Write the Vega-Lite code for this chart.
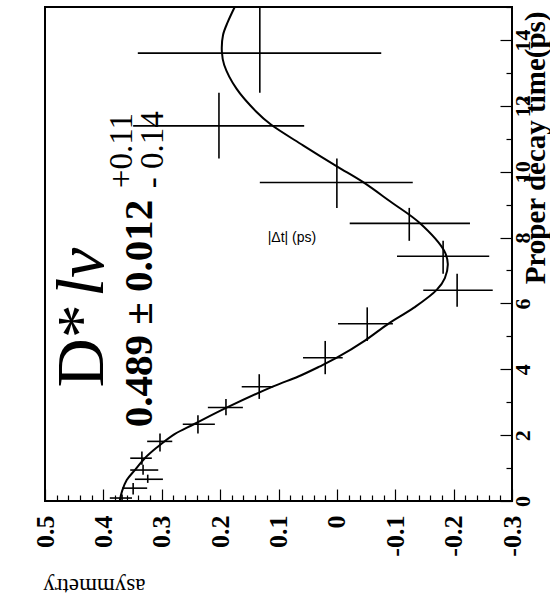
{
  "$schema": "https://vega.github.io/schema/vega-lite/v6.json",
  "width": 467,
  "height": 494,
  "autosize": {"type": "none"},
  "padding": {"left": 45, "top": 7, "right": 38, "bottom": 110},
  "background": "white",
  "config": {"view": {"stroke": "black", "strokeWidth": 2}, "font": "Liberation Serif"},
  "datasets": {
    "points": [
      {"t": 0.09, "tlo": 0.0, "thi": 0.2, "a": 0.368, "alo": 0.351, "ahi": 0.389},
      {"t": 0.39, "tlo": 0.2, "thi": 0.55, "a": 0.349, "alo": 0.325, "ahi": 0.368},
      {"t": 0.66, "tlo": 0.55, "thi": 0.8, "a": 0.324, "alo": 0.298, "ahi": 0.346},
      {"t": 0.94, "tlo": 0.8, "thi": 1.1, "a": 0.332, "alo": 0.306, "ahi": 0.354},
      {"t": 1.3, "tlo": 1.1, "thi": 1.5, "a": 0.334, "alo": 0.317, "ahi": 0.354},
      {"t": 1.81, "tlo": 1.5, "thi": 2.05, "a": 0.303, "alo": 0.282, "ahi": 0.325},
      {"t": 2.33, "tlo": 2.05, "thi": 2.6, "a": 0.238, "alo": 0.209, "ahi": 0.264},
      {"t": 2.84, "tlo": 2.6, "thi": 3.1, "a": 0.19, "alo": 0.161, "ahi": 0.221},
      {"t": 3.47, "tlo": 3.1, "thi": 3.85, "a": 0.133, "alo": 0.109, "ahi": 0.163},
      {"t": 4.35, "tlo": 3.85, "thi": 4.86, "a": 0.02, "alo": -0.01, "ahi": 0.058},
      {"t": 5.38, "tlo": 4.86, "thi": 5.88, "a": -0.052, "alo": -0.096, "ahi": -0.002},
      {"t": 6.4, "tlo": 5.9, "thi": 6.9, "a": -0.206, "alo": -0.267, "ahi": -0.148},
      {"t": 7.43, "tlo": 6.9, "thi": 7.9, "a": -0.182, "alo": -0.261, "ahi": -0.103},
      {"t": 8.43, "tlo": 7.9, "thi": 8.9, "a": -0.124, "alo": -0.228, "ahi": -0.022},
      {"t": 9.67, "tlo": 8.9, "thi": 10.4, "a": 0.0, "alo": -0.13, "ahi": 0.132},
      {"t": 11.39, "tlo": 10.4, "thi": 12.4, "a": 0.202, "alo": 0.056, "ahi": 0.349},
      {"t": 13.6, "tlo": 12.4, "thi": 15.0, "a": 0.132, "alo": -0.076, "ahi": 0.341}
    ],
    "fit": [
      {"t": 0.0, "a": 0.372},
      {"t": 0.3, "a": 0.368},
      {"t": 0.635, "a": 0.36},
      {"t": 0.94, "a": 0.346},
      {"t": 1.3, "a": 0.329},
      {"t": 1.63, "a": 0.308},
      {"t": 2.03, "a": 0.278},
      {"t": 2.33, "a": 0.245},
      {"t": 2.84, "a": 0.188},
      {"t": 3.48, "a": 0.109},
      {"t": 3.78, "a": 0.066},
      {"t": 4.08, "a": 0.03},
      {"t": 4.35, "a": 0.0},
      {"t": 4.87, "a": -0.048},
      {"t": 5.38, "a": -0.088},
      {"t": 5.87, "a": -0.132},
      {"t": 6.41, "a": -0.171},
      {"t": 6.77, "a": -0.185},
      {"t": 7.2, "a": -0.19},
      {"t": 7.59, "a": -0.184},
      {"t": 8.44, "a": -0.142},
      {"t": 9.1, "a": -0.091},
      {"t": 9.68, "a": -0.045},
      {"t": 10.16, "a": 0.0},
      {"t": 10.8, "a": 0.058},
      {"t": 11.43, "a": 0.113},
      {"t": 11.82, "a": 0.138},
      {"t": 12.52, "a": 0.172},
      {"t": 13.24, "a": 0.193},
      {"t": 13.64, "a": 0.197},
      {"t": 14.15, "a": 0.195},
      {"t": 14.54, "a": 0.187},
      {"t": 15.0, "a": 0.175}
    ]
  },
  "resolve": {"axis": {"x": "independent", "y": "independent"}},
  "layer": [
    {
      "data": {"name": "points"},
      "mark": {"type": "rule", "color": "black", "strokeWidth": 1.6},
      "encoding": {
        "x": {
          "field": "alo", "type": "quantitative",
          "scale": {"domain": [-0.3, 0.5], "reverse": true, "nice": false, "zero": false},
          "axis": {
            "orient": "bottom",
            "values": [-0.3, -0.2, -0.1, 0, 0.1, 0.2, 0.3, 0.4, 0.5],
            "domain": false,
            "grid": false,
            "tickColor": "black",
            "tickWidth": 1.2,
            "tickSize": -12,
            "labelExpr": "abs(datum.value) < 0.001 ? '0' : replace(format(datum.value, '.1f'), '\u2212', '-')",
            "labelAngle": 270,
            "labelAlign": "right",
            "labelBaseline": "middle",
            "labelFont": "Liberation Serif",
            "labelFontWeight": "bold",
            "labelFontSize": 26,
            "labelColor": "black",
            "labelPadding": 26,
            "labelOverlap": false,
            "labelBound": false,
            "labelFlush": false,
            "title": "asymmetry",
            "titleFont": "Liberation Serif",
            "titleFontWeight": "normal",
            "titleFontSize": 23,
            "titleColor": "black",
            "titleAngle": 180,
            "titleAlign": "left",
            "titleBaseline": "middle",
            "titleX": 100,
            "titleY": 84
          }
        },
        "x2": {"field": "ahi"},
        "y": {
          "field": "t", "type": "quantitative",
          "scale": {"domain": [0, 15], "nice": false, "zero": false},
          "axis": {
            "orient": "right",
            "values": [0, 2, 4, 6, 8, 10, 12, 14],
            "domain": false,
            "grid": false,
            "tickColor": "black",
            "tickWidth": 1.2,
            "tickSize": -12,
            "labelAngle": 270,
            "labelAlign": "center",
            "labelBaseline": "top",
            "labelFont": "Liberation Serif",
            "labelFontWeight": "bold",
            "labelFontSize": 22,
            "labelColor": "black",
            "labelPadding": 12,
            "labelOverlap": false,
            "labelBound": false,
            "labelFlush": false,
            "title": "Proper decay time(ps)",
            "titleFont": "Liberation Serif",
            "titleFontWeight": "bold",
            "titleFontSize": 29,
            "titleColor": "black",
            "titleAngle": 270,
            "titleAlign": "right",
            "titleBaseline": "alphabetic",
            "titleX": 32,
            "titleY": 4
          }
        }
      }
    },
    {
      "data": {"name": "points"},
      "mark": {"type": "rule", "color": "black", "strokeWidth": 1.6},
      "encoding": {
        "x": {"field": "a", "type": "quantitative", "axis": null},
        "y": {"field": "tlo", "type": "quantitative", "axis": null},
        "y2": {"field": "thi"}
      }
    },
    {
      "data": {"name": "fit"},
      "mark": {"type": "line", "color": "black", "strokeWidth": 2, "interpolate": "catmull-rom"},
      "encoding": {
        "x": {
          "field": "a", "type": "quantitative",
          "axis": {
            "orient": "bottom",
            "values": [-0.28,-0.26,-0.24,-0.22,-0.18,-0.16,-0.14,-0.12,-0.08,-0.06,-0.04,-0.02,0.02,0.04,0.06,0.08,0.12,0.14,0.16,0.18,0.22,0.24,0.26,0.28,0.32,0.34,0.36,0.38,0.42,0.44,0.46,0.48],
            "domain": false,
            "grid": false,
            "labels": false,
            "title": null,
            "tickColor": "black",
            "tickWidth": 1.2,
            "tickSize": -6
          }
        },
        "y": {
          "field": "t", "type": "quantitative",
          "axis": {
            "orient": "right",
            "values": [1, 3, 5, 7, 9, 11, 13, 15],
            "domain": false,
            "grid": false,
            "labels": false,
            "title": null,
            "tickColor": "black",
            "tickWidth": 1.2,
            "tickSize": -6
          }
        },
        "order": {"field": "t", "type": "quantitative"}
      }
    },
    {
      "data": {"values": [{"label": "D*", "a": 0.4, "t": 3.45}]},
      "mark": {"type": "text", "angle": 270, "align": "left", "baseline": "alphabetic", "font": "Liberation Serif", "fontSize": 68, "color": "black"},
      "encoding": {
        "x": {"field": "a", "type": "quantitative", "axis": null},
        "y": {"field": "t", "type": "quantitative", "axis": null},
        "text": {"field": "label"}
      }
    },
    {
      "data": {"values": [{"label": "lν", "a": 0.4, "t": 6.2}]},
      "mark": {"type": "text", "angle": 270, "align": "left", "baseline": "alphabetic", "font": "Liberation Serif", "fontStyle": "italic", "fontSize": 68, "color": "black"},
      "encoding": {
        "x": {"field": "a", "type": "quantitative", "axis": null},
        "y": {"field": "t", "type": "quantitative", "axis": null},
        "text": {"field": "label"}
      }
    },
    {
      "data": {"values": [{"label": "0.489 ± 0.012", "a": 0.317, "t": 2.24}]},
      "mark": {"type": "text", "angle": 270, "align": "left", "baseline": "alphabetic", "font": "Liberation Serif", "fontWeight": "bold", "fontSize": 41, "color": "black"},
      "encoding": {
        "x": {"field": "a", "type": "quantitative", "axis": null},
        "y": {"field": "t", "type": "quantitative", "axis": null},
        "text": {"field": "label"}
      }
    },
    {
      "data": {"values": [{"label": "+0.11", "a": 0.351, "t": 9.5}, {"label": "- 0.14", "a": 0.298, "t": 9.5}]},
      "mark": {"type": "text", "angle": 270, "align": "left", "baseline": "alphabetic", "font": "Liberation Serif", "fontSize": 33, "color": "black"},
      "encoding": {
        "x": {"field": "a", "type": "quantitative", "axis": null},
        "y": {"field": "t", "type": "quantitative", "axis": null},
        "text": {"field": "label"}
      }
    },
    {
      "data": {"values": [{"label": "|Δt| (ps)", "a": 0.077, "t": 7.98}]},
      "mark": {"type": "text", "align": "center", "baseline": "middle", "font": "Liberation Sans", "fontSize": 14, "color": "black"},
      "encoding": {
        "x": {"field": "a", "type": "quantitative", "axis": null},
        "y": {"field": "t", "type": "quantitative", "axis": null},
        "text": {"field": "label"}
      }
    }
  ]
}
